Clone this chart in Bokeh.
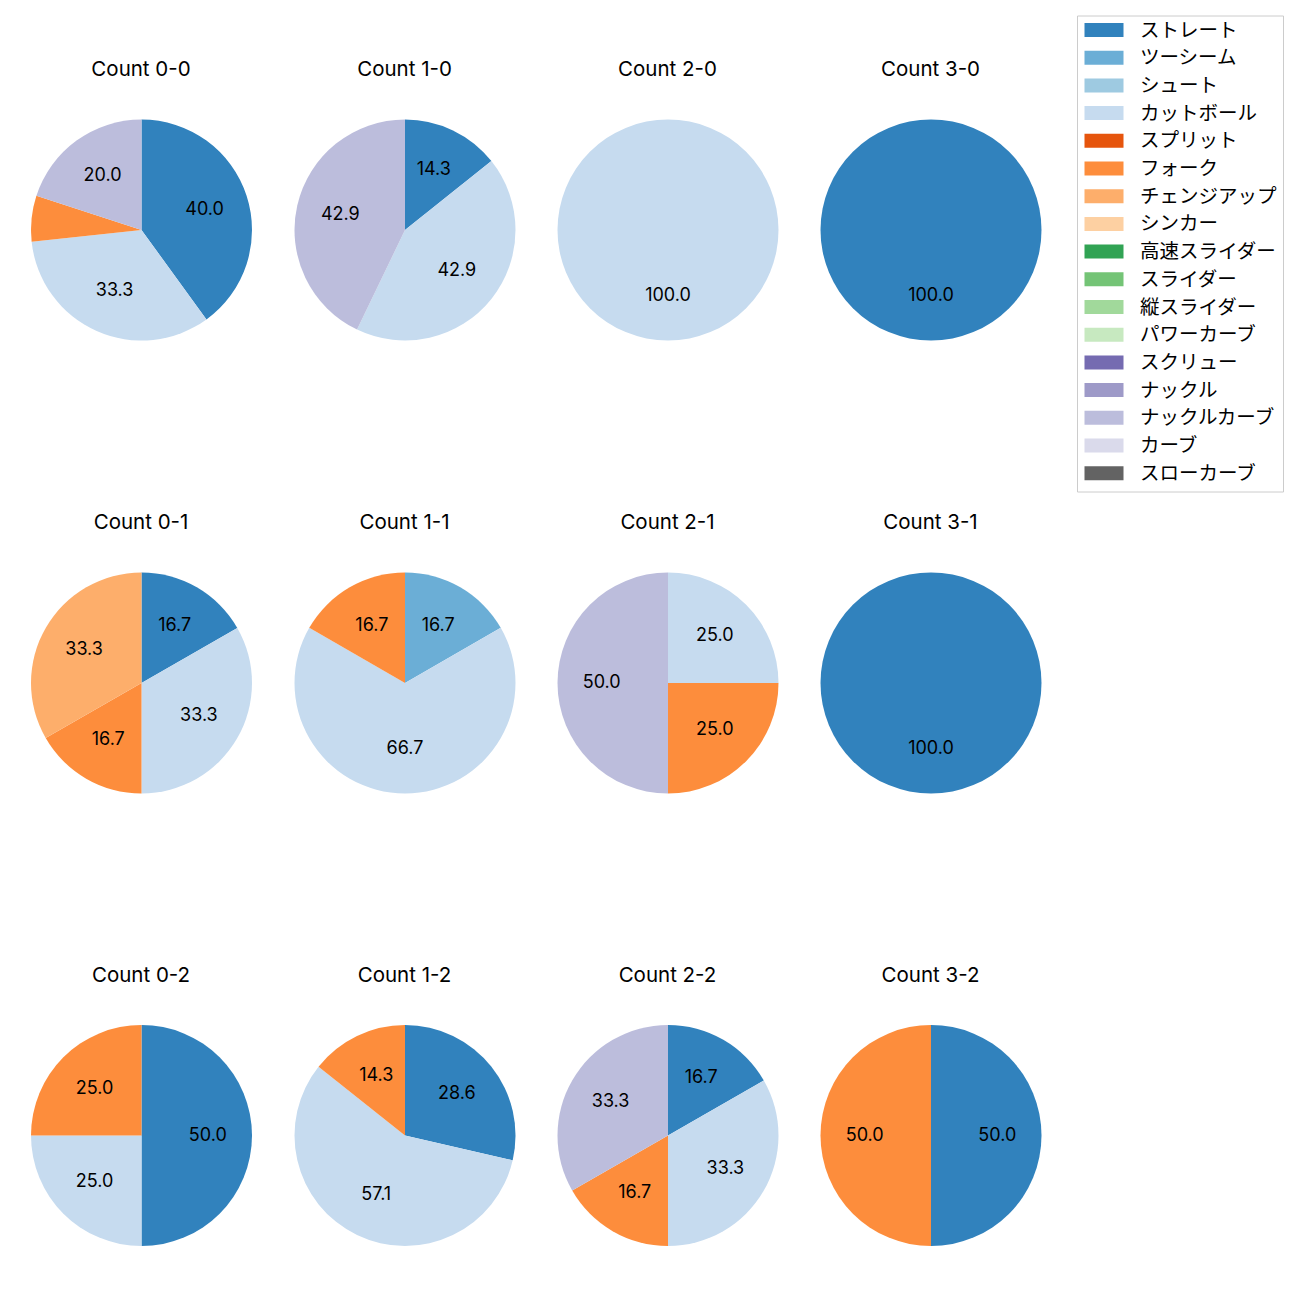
from bokeh.plotting import figure
from bokeh.models import Range1d
from bokeh.core.properties import value
from bokeh.embed import file_html
from bokeh.resources import INLINE
import math

pitch_types = ["ストレート", "ツーシーム", "シュート", "カットボール", "スプリット", "フォーク",
               "チェンジアップ", "シンカー", "高速スライダー", "スライダー", "縦スライダー",
               "パワーカーブ", "スクリュー", "ナックル", "ナックルカーブ", "カーブ", "スローカーブ"]
colors = ["#3182bd", "#6baed6", "#9ecae1", "#c6dbef", "#e6550d", "#fd8d3c", "#fdae6b", "#fdd0a2",
          "#31a354", "#74c476", "#a1d99b", "#c7e9c0", "#756bb1", "#9e9ac8", "#bcbddc", "#dadaeb",
          "#636363"]

counts = ["0-0", "1-0", "2-0", "3-0", "0-1", "1-1", "2-1", "3-1", "0-2", "1-2", "2-2", "3-2"]
# percentage per pitch type
c_0_0 = {"ストレート": 40.0, "フォーク": 6.7, "カットボール": 33.3, "ナックルカーブ": 20.0}
c_1_0 = {"ストレート": 14.3, "カットボール": 42.9, "ナックルカーブ": 42.9}
c_2_0 = {"カットボール": 100.0}
c_3_0 = {"ストレート": 100.0}
c_0_1 = {"ストレート": 16.7, "カットボール": 33.3, "フォーク": 16.7, "チェンジアップ": 33.3}
c_1_1 = {"ツーシーム": 16.7, "カットボール": 66.7, "フォーク": 16.7}
c_2_1 = {"カットボール": 25.0, "フォーク": 25.0, "ナックルカーブ": 50.0}
c_3_1 = {"ストレート": 100.0}
c_0_2 = {"ストレート": 50.0, "カットボール": 25.0, "フォーク": 25.0}
c_1_2 = {"ストレート": 28.6, "カットボール": 57.1, "フォーク": 14.3}
c_2_2 = {"ストレート": 16.7, "カットボール": 33.3, "フォーク": 16.7, "ナックルカーブ": 33.3}
c_3_2 = {"ストレート": 50.0, "フォーク": 50.0}
count_data = [c_0_0, c_1_0, c_2_0, c_3_0, c_0_1, c_1_1, c_2_1, c_3_1, c_0_2, c_1_2, c_2_2, c_3_2]

H = 1300
W_FIG = 1284
p = figure(width=W_FIG, height=W_FIG, output_backend="svg", toolbar_location=None,
           x_range=Range1d(0, W_FIG), y_range=Range1d(H - W_FIG, H),
           min_border=0, outline_line_color=None)
p.axis.visible = False
p.grid.visible = False

FONT = "Noto Sans CJK JP"
LFONT = "Inter"
col_x = [141, 404.5, 667.5, 930.5]
row_y = [229.5, 682.5, 1135]
R = 110.5

wx, wy, ws, we, wc = [], [], [], [], []
fx, fy, fc = [], [], []
lx, ly, lt = [], [], []
tx, ty, tt = [], [], []
for k, (cname, d) in enumerate(zip(counts, count_data)):
    cx = col_x[k % 4]
    cy = H - row_y[k // 4]
    tx.append(cx - 0.5); ty.append(cy + 161.5); tt.append("Count " + cname)
    total = sum(d.values())
    cum = 0.0
    for name, col in zip(pitch_types, colors):
        if name not in d:
            continue
        v = d[name]
        f0 = cum / total
        cum += v
        f1 = cum / total
        a_start = math.pi / 2 - 2 * math.pi * f1
        a_end = math.pi / 2 - 2 * math.pi * f0
        if f1 - f0 > 0.999:
            fx.append(cx); fy.append(cy); fc.append(col)
        else:
            wx.append(cx); wy.append(cy); ws.append(a_start); we.append(a_end); wc.append(col)
        if v >= 10:
            mid = (a_start + a_end) / 2
            lx.append(cx + 0.6 * R * math.cos(mid))
            ly.append(cy + 0.6 * R * math.sin(mid) + 2)
            lt.append(f"{v:.1f}")

p.circle(x=fx, y=fy, radius=R, fill_color=fc, line_color=None)
p.wedge(x=wx, y=wy, radius=R, start_angle=ws, end_angle=we, fill_color=wc,
        line_color=None, direction="anticlock")
p.text(x=lx, y=ly, text=lt, text_font=value(LFONT), text_font_size="18px",
       text_align="center", text_baseline="middle", text_color="black")
p.text(x=tx, y=ty, text=tt, text_font=value(LFONT), text_font_size="20.5px",
       text_align="center", text_baseline="middle", text_color="black")

# legend
p.quad(left=[1077], right=[1283], top=[H - 15.5], bottom=[H - 491.5], fill_color="white",
       line_color="#cccccc", line_width=1)
leg_y = [H - (29.5 + i * 27.7) for i in range(len(pitch_types))]
p.rect(x=[1103.5] * len(pitch_types), y=leg_y, width=39, height=14, fill_color=colors,
       line_color=None)
p.text(x=[1139.5] * len(pitch_types), y=[v + 2 for v in leg_y], text=pitch_types,
       text_font=value(FONT), text_font_size="19.5px", text_align="left",
       text_baseline="middle", text_color="black")

open("out.html", "w").write(file_html(p, INLINE))
